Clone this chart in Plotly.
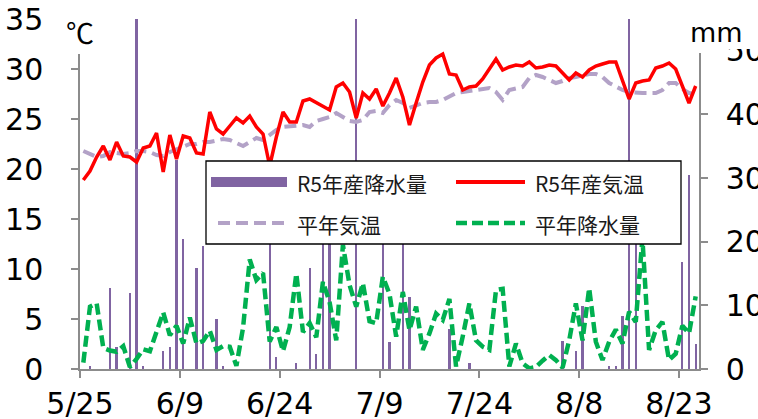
import pandas as pd
import plotly.graph_objects as go

# ---------------- data ----------------
dates = pd.date_range("2023-05-25", "2023-08-25", freq="D")

rain_r5 = [
    0, 0.4, 0, 0, 12.8, 3.4, 0, 11.9, 60, 0.4,
    0, 0, 2.9, 3.4, 32.8, 20.4, 0, 15.8, 19.4, 0,
    7.9, 0.4, 0, 0, 0, 0, 0, 0, 25, 1.9,
    0, 0, 0.9, 0, 15.8, 2.4, 22, 21, 0, 0,
    0, 65, 0, 0, 0, 22, 4.3, 0, 24, 11.3,
    0, 0, 0, 0, 0, 6.3, 0, 0, 0.9, 0,
    0, 0, 0, 0, 0, 0, 0, 0, 0, 0,
    0, 0, 4.4, 0, 2.9, 9.9, 0, 0, 0, 0.4,
    0.4, 8.3, 58, 22, 0, 0, 0, 0, 0, 0,
    16.8, 30.5, 3.9,
]

temp_r5 = [
    18.9, 19.8, 21.2, 22.3, 20.9, 22.7, 21.3, 21.2, 20.7, 22.1,
    22.3, 23.6, 19.7, 23.4, 21.0, 23.3, 23.1, 21.6, 21.5, 25.7,
    24.0, 23.5, 24.3, 25.1, 24.6, 25.3, 24.2, 23.5, 20.3, 23.2,
    25.7, 24.7, 24.7, 26.8, 27.0, 26.6, 26.3, 25.9, 28.2, 28.6,
    27.7, 25.1, 27.6, 27.0, 28.0, 26.3, 27.6, 29.1, 27.2, 24.4,
    26.6, 28.7, 30.4, 31.1, 31.5, 29.5, 29.4, 27.9, 28.2, 28.3,
    29.0, 30.0, 31.0, 29.9, 30.2, 30.4, 30.3, 30.7, 30.1, 30.2,
    30.4, 30.3, 29.6, 28.9, 29.6, 29.2, 29.9, 30.3, 30.5, 30.7,
    30.7, 28.9, 27.0, 28.6, 28.8, 28.9, 30.1, 30.3, 30.6, 30.0,
    28.4, 26.6, 28.3,
]

temp_normal = [
    21.8, 21.5, 21.2, 21.3, 21.7, 21.6, 21.5, 21.6, 21.8, 21.8,
    21.7, 21.4, 21.3, 21.7, 22.0, 22.3, 22.5, 22.5, 22.7, 22.7,
    22.8, 23.0, 22.9, 22.6, 22.3, 22.7, 23.1, 22.9, 23.4, 23.9,
    24.2, 24.3, 24.3, 24.4, 24.2, 24.8, 25.0, 25.2, 25.6, 25.2,
    24.8, 24.7, 24.9, 25.7, 25.8, 25.6, 26.4, 26.9, 26.6, 26.1,
    26.4, 26.6, 26.7, 26.7, 26.9, 27.2, 27.6, 27.7, 27.8, 27.9,
    28.0, 28.1, 27.7, 26.9, 27.9, 28.1, 28.2, 29.1, 29.4, 29.2,
    28.9, 28.6, 28.8, 29.1, 29.2, 29.4, 29.5, 29.5, 29.2, 28.6,
    28.2, 27.9, 27.7, 27.6, 27.6, 27.6, 27.6, 27.9, 28.6, 28.6,
    28.0, 27.6, 27.5,
]

rain_normal = [
    1.0, 9.8, 10.3, 3.3, 2.9, 2.7, 3.6, 0.3, 1.6, 3.1,
    2.8, 5.7, 8.9, 5.3, 6.8, 4.0, 8.1, 4.0, 4.4, 6.0,
    3.0, 3.6, 3.5, 0.5, 6.5, 17.2, 14.0, 15.1, 4.3, 6.6,
    2.8, 6.6, 15.0, 5.8, 7.2, 5.0, 13.7, 10.5, 4.5, 19.5,
    13.2, 9.8, 13.5, 7.5, 7.2, 14.5, 11.8, 5.1, 12.1, 6.1,
    9.8, 3.0, 5.6, 8.7, 7.7, 11.0, 0.4, 5.1, 10.3, 4.5,
    3.5, 3.0, 12.4, 12.6, 0.4, 4.0, 0.9, 0.1, 0.3, 1.3,
    2.2, 1.4, 0.2, 4.5, 10.3, 4.5, 12.7, 4.3, 1.4, 4.3,
    6.2, 4.0, 9.0, 7.4, 20.5, 3.0, 6.1, 7.4, 1.4, 2.4,
    6.8, 5.6, 11.4,
]

tick_dates = ["2023-05-25", "2023-06-09", "2023-06-24", "2023-07-09",
              "2023-07-24", "2023-08-08", "2023-08-23"]
tick_labels = ["5/25", "6/9", "6/24", "7/9", "7/24", "8/8", "8/23"]
temp_ticks = [0, 5, 10, 15, 20, 25, 30, 35]
rain_ticks = [0, 10, 20, 30, 40, 50]
series_names = ["R5年産降水量", "R5年産気温", "平年気温", "平年降水量"]

# ---------------- style ----------------
W, H = 758, 419
PL, PR, PT, PB = 80, 699, 19, 369
DAY = 86400000
C_BAR = "#8064A2"
C_RED = "#FF0000"
C_LAV = "#B3A2C7"
C_GRN = "#00B050"
C_AX = "#8C8C8C"
TICK_FONT = dict(family="DejaVu Sans", size=30, color="#000000")
CJK = "Noto Sans CJK JP"


def fx(x):
    return (x - PL) / (PR - PL)


def fy(y):
    return (PB - y) / (PB - PT)


fig = go.Figure()
fig.add_trace(go.Bar(x=dates, y=rain_r5, yaxis="y", name=series_names[0],
                     marker=dict(color=C_BAR, line=dict(width=0)),
                     width=0.34 * DAY, xperiod=DAY, xperiodalignment="middle"))
fig.add_trace(go.Scatter(x=dates, y=rain_normal, yaxis="y", mode="lines",
                         name=series_names[3], xperiod=DAY, xperiodalignment="middle",
                         line=dict(color=C_GRN, width=4.5, dash="11px,5px")))
fig.add_trace(go.Scatter(x=dates, y=temp_normal, yaxis="y2", mode="lines",
                         name=series_names[2], xperiod=DAY, xperiodalignment="middle",
                         line=dict(color=C_LAV, width=4, dash="12px,6px")))
fig.add_trace(go.Scatter(x=dates, y=temp_r5, yaxis="y2", mode="lines",
                         name=series_names[1], xperiod=DAY, xperiodalignment="middle",
                         line=dict(color=C_RED, width=3.5)))

axis_common = dict(showgrid=False, zeroline=False, ticks="outside", ticklen=7,
                   tickwidth=1.5, tickcolor=C_AX, showline=True, linecolor=C_AX,
                   linewidth=1.5, tickfont=TICK_FONT, automargin=False)

fig.update_layout(
    width=W, height=H, autosize=False,
    margin=dict(l=PL, r=W - PR, t=PT, b=H - PB, pad=0, autoexpand=False),
    paper_bgcolor="white", plot_bgcolor="white",
    showlegend=False, bargap=0,
    xaxis=dict(type="date", range=["2023-05-25", "2023-08-26"],
               tickvals=tick_dates, ticktext=tick_labels, **axis_common),
    yaxis=dict(side="right", range=[0, 55], tickvals=rain_ticks,
               ticklabelstandoff=12, **axis_common),
    yaxis2=dict(side="left", overlaying="y", range=[0, 35], tickvals=temp_ticks,
                ticklabelstandoff=22, **axis_common),
)

shapes = []
# covers for the unit labels (hide axis tops like the original)
shapes.append(dict(type="rect", xref="paper", yref="paper", layer="above",
                   x0=fx(55), x1=fx(97), y0=fy(54), y1=fy(8),
                   fillcolor="white", line=dict(width=0)))
shapes.append(dict(type="rect", xref="paper", yref="paper", layer="above",
                   x0=fx(686), x1=fx(760), y0=fy(49), y1=fy(8),
                   fillcolor="white", line=dict(width=0)))
shapes.append(dict(type="rect", xref="paper", yref="paper", layer="above",
                   x0=fx(692), x1=fx(712), y0=fy(53), y1=fy(8),
                   fillcolor="white", line=dict(width=0)))
# legend box
shapes.append(dict(type="rect", xref="paper", yref="paper", layer="above",
                   x0=fx(206), x1=fx(681), y0=fy(244), y1=fy(161),
                   fillcolor="white", line=dict(color="#000000", width=1.3)))
# legend swatches
shapes.append(dict(type="rect", xref="paper", yref="paper", layer="above",
                   x0=fx(211), x1=fx(287), y0=fy(187), y1=fy(177),
                   fillcolor=C_BAR, line=dict(width=0)))
shapes.append(dict(type="line", xref="paper", yref="paper", layer="above",
                   x0=fx(456), x1=fx(525), y0=fy(182), y1=fy(182),
                   line=dict(color=C_RED, width=4)))
shapes.append(dict(type="line", xref="paper", yref="paper", layer="above",
                   x0=fx(218), x1=fx(288), y0=fy(223), y1=fy(223),
                   line=dict(color=C_LAV, width=4, dash="12px,6px")))
shapes.append(dict(type="line", xref="paper", yref="paper", layer="above",
                   x0=fx(456), x1=fx(525), y0=fy(223), y1=fy(223),
                   line=dict(color=C_GRN, width=4.5, dash="11px,5px")))
fig.update_layout(shapes=shapes)

ann = []
legend_pos = [(295, 183), (533, 183), (295, 224), (533, 224)]
for name, (lx, ly) in zip(series_names, legend_pos):
    ann.append(dict(text=name, xref="paper", yref="paper", x=fx(lx), y=fy(ly),
                    xanchor="left", yanchor="middle", showarrow=False,
                    font=dict(family=CJK, size=21, color="#1a1a1a")))
ann.append(dict(text="℃", xref="paper", yref="paper", x=fx(80), y=fy(32),
                xanchor="center", yanchor="middle", showarrow=False,
                font=dict(family=CJK, size=28, color="#000000")))
ann.append(dict(text="mm", xref="paper", yref="paper", x=fx(716), y=fy(32),
                xanchor="center", yanchor="middle", showarrow=False,
                font=dict(family="DejaVu Sans", size=27, color="#000000")))
fig.update_layout(annotations=ann)

fig.write_html("out.html",
               config={"displayModeBar": False},
               post_script="document.body.style.margin='0';"
                           "document.body.style.overflow='hidden';")
